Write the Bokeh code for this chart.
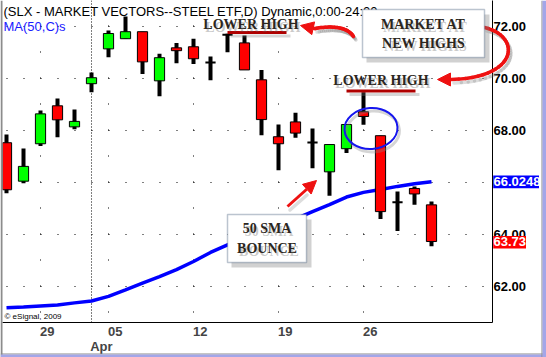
import numpy as np
from bokeh.plotting import figure
from bokeh.models import (Range1d, LinearAxis, FixedTicker, NumeralTickFormatter, Span, Label,
                          BoxAnnotation, Arrow, NormalHead, ColumnDataSource)
from bokeh.embed import file_html
from bokeh.resources import INLINE

# ---------------- data ----------------
dates = ["Mar 25", "Mar 26", "Mar 29", "Mar 30", "Mar 31", "Apr 01", "Apr 05", "Apr 06", "Apr 07",
         "Apr 08", "Apr 09", "Apr 12", "Apr 13", "Apr 14", "Apr 15", "Apr 16", "Apr 19", "Apr 20",
         "Apr 21", "Apr 22", "Apr 23", "Apr 26", "Apr 27", "Apr 28", "Apr 29", "Apr 30"]
opens = [67.53, 66.05, 67.49, 68.95, 68.14, 69.80, 71.14, 71.53, 71.80, 69.91, 71.18, 71.22, 70.62,
         71.68, 71.37, 69.95, 67.76, 68.33, 67.54, 66.41, 67.30, 68.72, 67.80, 65.24, 65.77, 65.14]
highs = [67.85, 67.31, 68.77, 69.23, 68.81, 70.23, 71.85, 72.38, 71.80, 70.95, 71.37, 71.53, 70.85,
         71.72, 71.65, 70.33, 68.23, 68.68, 68.08, 67.46, 68.23, 69.47, 67.80, 65.65, 65.85, 65.27]
lows = [65.59, 65.97, 67.40, 67.74, 68.05, 69.47, 70.82, 71.53, 70.17, 69.32, 70.59, 70.56, 69.93,
        71.01, 70.33, 67.82, 66.47, 67.72, 66.55, 65.49, 67.13, 68.22, 64.60, 64.13, 65.14, 63.55]
closes = [65.72, 66.62, 68.64, 68.41, 68.35, 70.03, 71.73, 71.80, 70.64, 70.80, 71.07, 70.76, 70.62,
          71.68, 70.33, 68.42, 67.49, 67.90, 67.54, 67.46, 68.23, 68.54, 64.88, 65.24, 65.56, 63.73]
ma50 = [61.18, 61.21, 61.25, 61.29, 61.37, 61.44, 61.62, 61.87, 62.13, 62.38, 62.65, 62.96, 63.31,
        63.60, 63.86, 64.10, 64.35, 64.60, 64.88, 65.15, 65.44, 65.62, 65.73, 65.85, 65.95, 66.0248]
price_ticks = [62, 64, 66, 68, 70, 72]
week_dates = ["Mar 29", "Apr 05", "Apr 12", "Apr 19", "Apr 26"]
week_labels = ["29", "05", "12", "19", "26"]
month_date = "Apr 01"
month_label = "Apr"

title_text = "(SLX - MARKET VECTORS--STEEL ETF,D) Dynamic,0:00-24:00"
ma_text = "MA(50,C)s"

# ---------------- helpers: pixel -> data for annotation placement ----------------
PX_PER_DAY = 17.0
PX_PER_UNIT = 26.0

def X(px):
    return (px - 6) / PX_PER_DAY

def Y(py):
    return 72 - (py - 26) / PX_PER_UNIT

idx = np.arange(len(dates))
o = np.array(opens); h = np.array(highs); l = np.array(lows); c = np.array(closes)
up = c > o
dn = c < o
dj = c == o

p = figure(width=546, height=357, x_range=Range1d(X(2), X(492)), y_range=Range1d(Y(322), Y(0)),
           output_backend="svg", toolbar_location=None, y_axis_location="right",
           min_border_left=2, min_border_right=54, min_border_top=0, min_border_bottom=35,
           background_fill_color="white", border_fill_color="white", outline_line_color=None)
p.styles = {"position": "absolute", "left": "0px", "top": "0px"}

AXF = "Liberation Sans"

# right price axis
ya = p.yaxis[0]
ya.ticker = FixedTicker(ticks=price_ticks)
ya.formatter = NumeralTickFormatter(format="0.00")
ya.major_tick_out = 0
ya.major_tick_in = 0
ya.minor_tick_out = 0
ya.minor_tick_in = 0
ya.axis_line_color = "black"
ya.major_label_standoff = 1
ya.major_label_text_font = AXF
ya.major_label_text_font_size = "13px"
ya.major_label_text_font_style = "bold"
ya.major_label_text_color = "black"

# bottom date axis (labels start at their tick, so the label anchor sits a little right of it)
week_pos = [dates.index(d) for d in week_dates]
lab_shift = 0.4
xa = p.xaxis[0]
xa.ticker = FixedTicker(ticks=[k + lab_shift for k in week_pos])
xa.major_label_overrides = {k + lab_shift: v for k, v in zip(week_pos, week_labels)}
xa.major_tick_out = 0
xa.major_tick_in = 0
xa.minor_tick_out = 0
xa.minor_tick_in = 0
xa.axis_line_color = "black"
xa.major_label_standoff = 4
xa.major_label_text_font = AXF
xa.major_label_text_font_size = "13px"
xa.major_label_text_font_style = "bold"

month_pos = dates.index(month_date)
mshift = 0.58
xa2 = LinearAxis(ticker=FixedTicker(ticks=[month_pos + mshift]),
                 major_label_overrides={month_pos + mshift: month_label},
                 axis_line_color=None, major_tick_out=0, major_tick_in=0,
                 minor_tick_out=0, minor_tick_in=0, major_label_standoff=0,
                 major_label_text_font=AXF,
                 major_label_text_font_size="13px", major_label_text_font_style="bold")
p.add_layout(xa2, "below")

# dotted grids
xg = p.xgrid[0]
xg.ticker = FixedTicker(ticks=week_pos)
xg.grid_line_color = "black"
xg.grid_line_dash = "1 25"
xg.grid_line_dash_offset = 16
yg = p.ygrid[0]
yg.ticker = FixedTicker(ticks=price_ticks)
yg.grid_line_color = "black"
yg.grid_line_dash = "1 16"
yg.grid_line_dash_offset = 13

# month separator
p.add_layout(Span(location=month_pos, dimension="height", line_color="black",
                  line_dash="1 2", line_width=1, level="underlay"))

# MA line
p.line(idx, ma50, line_color="#0000ff", line_width=3.5)

# candles
p.segment(x0=idx, y0=l, x1=idx, y1=h, line_color="black", line_width=4)
p.vbar(x=idx[up], bottom=o[up], top=c[up], width=0.6, fill_color="#00ff00",
       line_color="black", line_width=1)
p.vbar(x=idx[dn], bottom=c[dn], top=o[dn], width=0.6, fill_color="#ff0000",
       line_color="black", line_width=1)
p.segment(x0=idx[dj] - 0.3, y0=o[dj], x1=idx[dj] + 0.3, y1=o[dj], line_color="black", line_width=2)

# title texts
p.add_layout(Label(x=X(3), y=Y(10.5), text=title_text, text_font=AXF, text_font_size="13px",
                   text_baseline="middle", text_align="left", text_color="black"))
p.add_layout(Label(x=X(3), y=Y(25.5), text=ma_text, text_font=AXF, text_font_size="13px",
                   text_baseline="middle", text_align="left", text_color="#1a1aff"))
p.add_layout(Label(x=X(4), y=Y(315.5), text="\u00a9 eSignal, 2009", text_font=AXF,
                   text_font_size="8px", text_baseline="middle", text_align="left",
                   text_color="black"))

# ---------------- transparent overlay figure (same mapping, whole window) ----------------
q = figure(width=546, height=357, x_range=Range1d(X(0), X(546)), y_range=Range1d(Y(357), Y(0)),
           output_backend="svg", toolbar_location=None, x_axis_location=None,
           y_axis_location=None, min_border=0, min_border_left=0, min_border_right=0,
           min_border_top=0, min_border_bottom=0,
           background_fill_color=None, border_fill_color=None, outline_line_color=None)
q.xgrid.visible = False
q.ygrid.visible = False
q.styles = {"position": "absolute", "left": "0px", "top": "0px"}

# last value tags over the price axis
def tag(val, text, color, right_px):
    half = 6.3 / PX_PER_UNIT
    q.add_layout(BoxAnnotation(left=X(492.7), right=X(right_px), top=val + half,
                               bottom=val - half, fill_color=color, fill_alpha=1,
                               line_color=None))
    q.add_layout(Label(x=X(493), y=val, y_offset=0.5, text=text, text_font=AXF,
                       text_font_size="13px", text_font_style="bold", text_color="white",
                       text_baseline="middle", text_align="left"))

tag(ma50[-1], f"{ma50[-1]:.4f}", "#0000ff", 538.5)
tag(closes[-1] - 0.03, f"{closes[-1]:.2f}", "#ff0000", 525.5)

RED = "#ee1111"
SERIF = "Liberation Serif"
INK = "#2b2620"

def bez(pts, n=28):
    pts = np.array(pts, float)
    t = np.linspace(0, 1, n)[:, None]
    if len(pts) == 3:
        return (1 - t) ** 2 * pts[0] + 2 * (1 - t) * t * pts[1] + t ** 2 * pts[2]
    return ((1 - t) ** 3 * pts[0] + 3 * (1 - t) ** 2 * t * pts[1]
            + 3 * (1 - t) * t ** 2 * pts[2] + t ** 3 * pts[3])

def polyline(pts, color, width, alpha=1.0):
    xs = [X(a) for a in pts[:, 0]]
    ys = [Y(b) for b in pts[:, 1]]
    src = ColumnDataSource(dict(x0=xs[:-1], y0=ys[:-1], x1=xs[1:], y1=ys[1:]))
    q.add_layout(Arrow(source=src, x_start="x0", y_start="y0", x_end="x1", y_end="y1", end=None,
                       line_color=color, line_width=width, line_alpha=alpha, line_cap="round"))

def head(a, b, color, size=13):
    q.add_layout(Arrow(x_start=X(a[0]), y_start=Y(a[1]), x_end=X(b[0]), y_end=Y(b[1]),
                       end=NormalHead(size=size, fill_color=color, line_color=color),
                       line_color=color, line_width=3))

def box(l_, r_, t_, b_):
    q.add_layout(BoxAnnotation(left=X(l_ + 4), right=X(r_ + 5), top=Y(t_ + 5), bottom=Y(b_ + 5),
                               fill_color="#7a7a7a", fill_alpha=0.35, line_color=None))
    q.add_layout(BoxAnnotation(left=X(l_), right=X(r_), top=Y(t_), bottom=Y(b_),
                               fill_color="white", fill_alpha=1, line_color="#1f3a5f",
                               line_width=1.5))

def stencil(cx, cy, text):
    q.add_layout(Label(x=X(cx + 2), y=Y(cy + 3), text=text, text_font=SERIF, text_font_style="bold",
                       text_font_size="14px", text_color="#666666", text_alpha=0.35,
                       text_align="center", text_baseline="middle"))
    q.add_layout(Label(x=X(cx), y=Y(cy), text=text, text_font=SERIF, text_font_style="bold",
                       text_font_size="14px", text_color=INK, text_align="center",
                       text_baseline="middle"))

def underline(x0, x1, yy):
    q.add_layout(BoxAnnotation(left=X(x0 + 3), right=X(x1 + 4), top=Y(yy + 2), bottom=Y(yy + 5),
                               fill_color="#777777", fill_alpha=0.3, line_color=None))
    q.add_layout(BoxAnnotation(left=X(x0), right=X(x1), top=Y(yy - 1.5), bottom=Y(yy + 1.5),
                               fill_color="#b00000", fill_alpha=1, line_color=None))

# blue ellipse around the lower-high candle
q.ellipse(x=[X(372.5)], y=[Y(131)], width=53, height=41, width_units="screen",
          height_units="screen", angle=0.06, fill_color=None, line_color="#888888",
          line_alpha=0.35, line_width=3)
q.ellipse(x=[X(370.5)], y=[Y(128)], width=53, height=41, width_units="screen",
          height_units="screen", angle=0.06, fill_color=None, line_color="#1515ee", line_width=2)

# window border
for (l_, r_, t_, b_, col) in [(0, 2, 0, 357, "#8c8c8c"), (0, 546, 353, 354, "#8c8c8c"),
                              (0, 546, 354, 357, "#a3a6e8"), (541, 542, 0, 357, "#8c8c8c"),
                              (542, 546, 0, 357, "#a3a6e8")]:
    q.add_layout(BoxAnnotation(left=X(l_), right=X(r_), top=Y(t_), bottom=Y(b_),
                               fill_color=col, fill_alpha=1, line_color=None))

# "LOWER HIGH" labels
underline(227, 286, 32)
stencil(250.5, 24, "LOWER HIGH")
underline(346, 415, 90.5)
stencil(380.5, 80, "LOWER HIGH")

# arrows (shadows first)
curve_a = bez([(353, 36), (345, 23), (314, 28)])
curve_b = bez([(484, 27), (520, 35), (520, 77), (451, 79)])
sh = np.array([2.5, 3.5])
polyline(curve_a + sh, "#777777", 3.5, 0.25)
polyline(curve_b + sh, "#777777", 3.5, 0.25)
polyline(np.array([(287, 206), (304, 191)]) + sh, "#777777", 3.5, 0.25)
polyline(curve_a, RED, 3.5)
head((316, 28.5), (300, 25), RED)
polyline(curve_b, RED, 3.5)
head((451, 79), (437, 79), RED)
head((287, 206), (316, 180), RED)

# text boxes
box(362, 484, 9, 57)
stencil(423, 24, "MARKET AT")
stencil(423, 43, "NEW HIGHS")
box(227, 306, 214, 262)
stencil(266.5, 228, "50 SMA")
stencil(266.5, 248, "BOUNCE")

# two independent roots: the chart, and the annotation layer on top of it
open("out.html", "w").write(file_html([p, q], INLINE))
